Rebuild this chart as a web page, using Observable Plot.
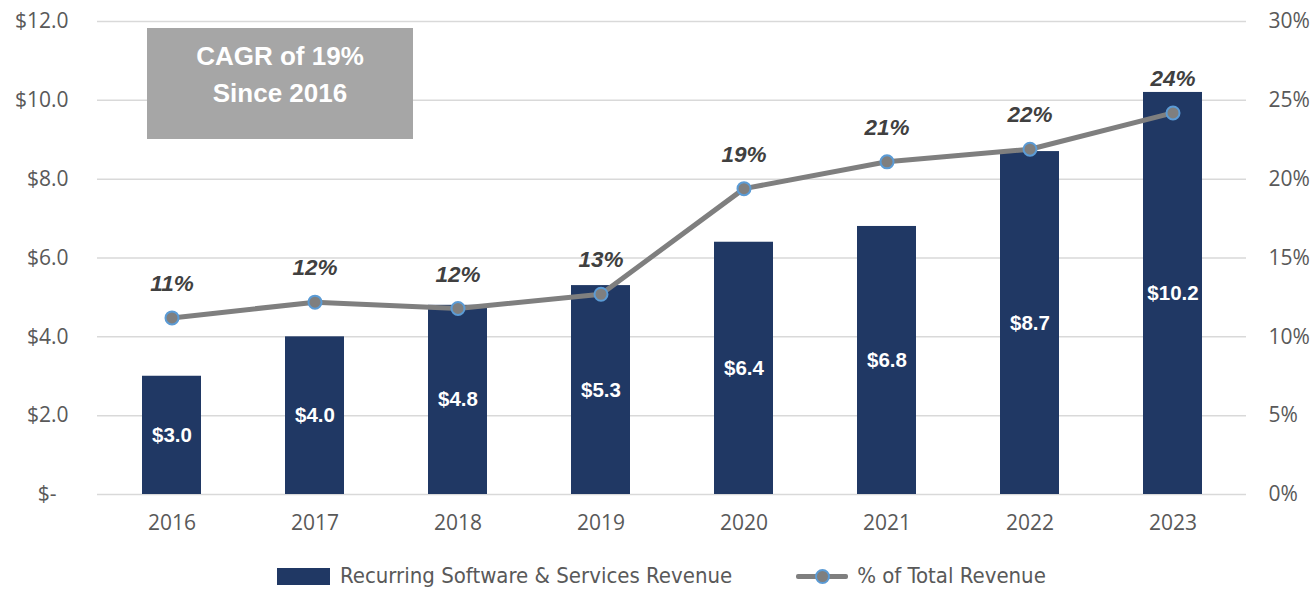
<!DOCTYPE html>
<html><head><meta charset="utf-8">
<script src="https://cdn.jsdelivr.net/npm/d3@7"></script>
<script src="https://cdn.jsdelivr.net/npm/@observablehq/plot@0.6"></script>
<style>
body{margin:0;background:#fff;}
#wrap{position:relative;width:1314px;height:590px;overflow:hidden;background:#fff;}
#cagr{position:absolute;left:147px;top:28px;width:266px;height:111px;background:#a6a6a6;color:#fff;
  font-family:"Liberation Sans",Arial,sans-serif;font-weight:bold;font-size:26px;line-height:37px;text-align:center;
  box-sizing:border-box;padding-top:10px;}
#legend{position:absolute;left:277px;top:563px;height:26px;display:flex;align-items:center;line-height:26px;
  font-family:"Liberation Sans Narrow","DejaVu Sans Condensed","Roboto",sans-serif;font-size:22px;color:#595959;}
.sw-bar{width:53px;height:17px;background:#203864;margin-right:10px;}
.sw-line{position:relative;width:52px;height:17px;margin-left:64px;margin-right:9px;}
.sw-line .ln{position:absolute;left:0;top:6px;width:52px;height:5px;background:#7f7f7f;border-radius:2px;}
.sw-line .dt{position:absolute;left:19px;top:1px;width:11px;height:11px;border-radius:50%;background:#7f7f7f;border:2px solid #5b9bd5;}
</style></head><body>
<div id="wrap"></div>
<script>
const years = ["2016","2017","2018","2019","2020","2021","2022","2023"];
const revenue = [3.0, 4.0, 4.8, 5.3, 6.4, 6.8, 8.7, 10.2];
const pctOfTotal = [11.2, 12.2, 11.8, 12.7, 19.4, 21.1, 21.9, 24.2];
const leftTicks = [0, 2, 4, 6, 8, 10, 12];
const rightTicks = [0, 5, 10, 15, 20, 25, 30];
const cagrText = ["CAGR of 19%", "Since 2016"];
const legendLabels = ["Recurring Software & Services Revenue", "% of Total Revenue"];

const k = 12 / 30; // percent -> dollar axis
const rows = years.map((y, i) => ({year: y, rev: revenue[i], pct: pctOfTotal[i]}));
const axisFont = "'Open Sans', 'Noto Sans', sans-serif";
const boldFont = "'Liberation Sans', Arial, sans-serif";

const chart = Plot.plot({
  width: 1314,
  height: 550,
  marginLeft: 97,
  marginRight: 68,
  marginTop: 21,
  marginBottom: 56,
  style: {fontFamily: axisFont, fontSize: "21px", color: "#595959", background: "#fff"},
  x: {domain: years, paddingInner: 0.59, paddingOuter: 0.295, label: null},
  y: {domain: [0, 12], label: null},
  marks: [
    Plot.ruleY(leftTicks, {stroke: "#d9d9d9", strokeWidth: 1.5}),
    Plot.barY(rows, {x: "year", y: "rev", fill: "#203864"}),
    Plot.line(rows, {x: "year", y: d => d.pct * k, stroke: "#7f7f7f", strokeWidth: 5}),
    Plot.dot(rows, {x: "year", y: d => d.pct * k, r: 6.5, fill: "#7f7f7f", stroke: "#5b9bd5", strokeWidth: 2}),
    Plot.text(rows, {x: "year", y: d => d.rev / 2, text: d => "$" + d.rev.toFixed(1),
      fill: "#fff", fontWeight: "bold", fontSize: 20.5, fontFamily: boldFont}),
    Plot.text(rows, {x: "year", y: d => d.pct * k, dy: -34, text: d => Math.round(d.pct) + "%",
      fill: "#404040", fontWeight: "bold", fontStyle: "italic", fontSize: 22.5, fontFamily: boldFont}),
    Plot.axisY({ticks: leftTicks, tickSize: 0, tickPadding: 29,
      tickFormat: d => d === 0 ? "$-\u2007" : "$" + d.toFixed(1)}),
    Plot.axisY({anchor: "right", ticks: rightTicks.map(p => p * k), tickSize: 0, tickPadding: 22,
      tickFormat: d => Math.round(d / k) + "%"}),
    Plot.axisX({tickSize: 0, tickPadding: 21})
  ]
});
const wrap = document.getElementById("wrap");
wrap.appendChild(chart);

const box = document.createElement("div");
box.id = "cagr";
box.innerHTML = cagrText.join("<br>");
wrap.appendChild(box);

const leg = document.createElement("div");
leg.id = "legend";
leg.innerHTML = `<div class="sw-bar"></div><span>${legendLabels[0].replace("&","&amp;")}</span>
<div class="sw-line"><div class="ln"></div><div class="dt"></div></div><span>${legendLabels[1]}</span>`;
wrap.appendChild(leg);
</script>
</body></html>
